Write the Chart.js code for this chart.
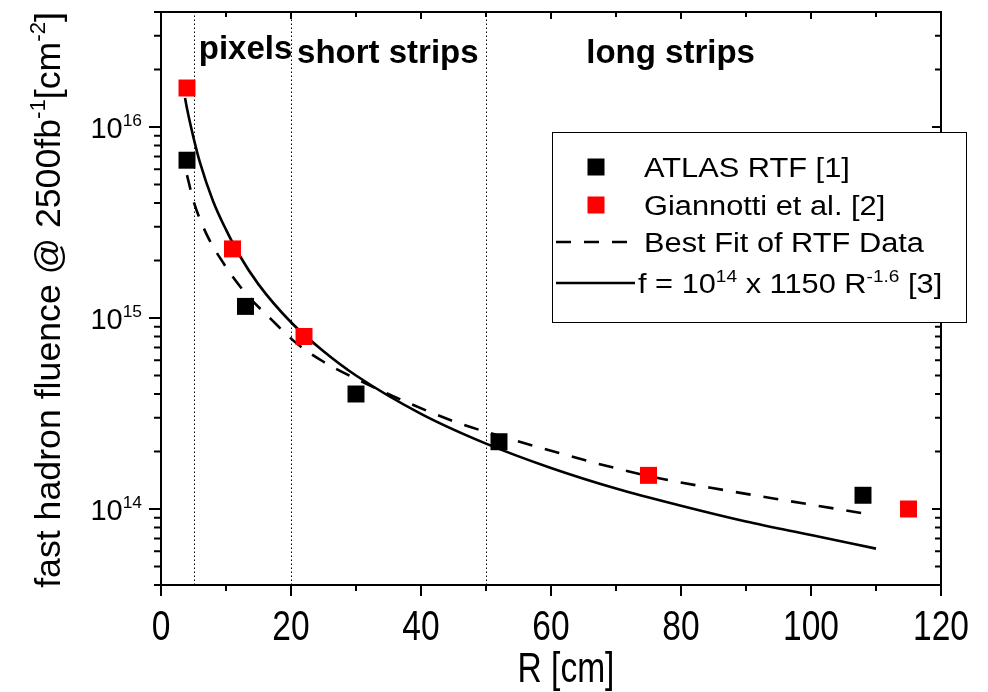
<!DOCTYPE html>
<html>
<head>
<meta charset="utf-8">
<script src="https://cdn.jsdelivr.net/npm/chart.js@4.4.1/dist/chart.umd.min.js"></script>
<style>
  html, body { margin: 0; padding: 0; background: #fff; }
</style>
</head>
<body>
<canvas id="fluenceChart" width="988" height="692"></canvas>
<script>
// measured points
const atlasR = [4, 13, 30, 52, 108];
const atlasF = [6.7e15, 1.15e15, 4.0e14, 2.25e14, 1.18e14];
const giannottiR = [4, 11, 22, 75, 115];
const giannottiF = [1.6e16, 2.3e15, 8.0e14, 1.5e14, 1.0e14];

// curves
const fitR = [4, 5, 7, 10, 13, 17, 21, 25, 30, 38, 46, 52, 60, 68, 77, 87, 96, 108];
const fitF = [5.6e15, 4.1e15, 2.75e15, 1.85e15, 1.35e15, 9.8e14, 7.3e14, 5.9e14, 4.8e14, 3.6e14,
              2.8e14, 2.42e14, 2.02e14, 1.7e14, 1.44e14, 1.25e14, 1.11e14, 9.5e13];
const modelR = [3.7, 4, 5, 6, 8, 10, 12, 15, 20, 25, 30, 40, 50, 60, 70, 80, 90, 100, 110];
const modelF = [1.42e16, 1.25e16, 8.8e15, 6.5e15, 4.1e15, 2.9e15, 2.15e15, 1.5e15, 9.5e14, 6.7e14,
                5.0e14, 3.15e14, 2.2e14, 1.64e14, 1.28e14, 1.04e14, 8.6e13, 7.3e13, 6.2e13];

const regionEdges = [5, 20, 50];
const regionNames = ['pixels', 'short strips', 'long strips'];
const regionLabelR = [13.0, 34.9, 78.4];

const xTicks = [0, 20, 40, 60, 80, 100, 120];
const yDecades = [1e14, 1e15, 1e16];
const yDecadeExp = ['14', '15', '16'];

const FONT = '"Liberation Sans", Arial, sans-serif';

function pts(xs, ys) {
    return xs.map((x, i) => ({x: x, y: ys[i]}));
}

// draw a run of text pieces, some raised as superscripts
function runs(ctx, parts, x, y, size, align, sx, bold, supScale) {
    const w = bold ? 'bold ' : '';
    const ss = supScale || 0.62;
    let total = 0;
    parts.forEach((p) => {
        ctx.font = w + (p.sup ? size * ss : size) + 'px ' + FONT;
        p.w = ctx.measureText(p.t).width;
        total += p.w;
    });
    ctx.save();
    ctx.translate(x, y);
    ctx.scale(sx, 1);
    let cx = align === 'center' ? -total / 2 : (align === 'right' ? -total : 0);
    ctx.textBaseline = 'alphabetic';
    ctx.textAlign = 'left';
    parts.forEach((p) => {
        ctx.font = w + (p.sup ? size * ss : size) + 'px ' + FONT;
        ctx.fillText(p.t, cx, p.sup ? -size * 0.42 : 0);
        cx += p.w;
    });
    ctx.restore();
}

const decorations = {
    id: 'decorations',
    beforeDatasetsDraw(chart) {
        const {ctx, chartArea: a, scales: {x}} = chart;
        ctx.save();
        ctx.strokeStyle = '#000';
        ctx.lineWidth = 1;
        ctx.setLineDash([1.5, 2.5]);
        regionEdges.forEach((r) => {
            const px = Math.round(x.getPixelForValue(r)) + 0.5;
            ctx.beginPath();
            ctx.moveTo(px, a.bottom);
            ctx.lineTo(px, a.top);
            ctx.stroke();
        });
        ctx.restore();
    },
    afterDatasetsDraw(chart) {
        const {ctx, chartArea: a, scales: {x, y}} = chart;
        ctx.save();
        ctx.fillStyle = '#000';
        ctx.strokeStyle = '#000';

        // region names
        regionNames.forEach((n, i) => {
            const base = i === 0 ? 59 : 63;
            runs(ctx, [{t: n}], x.getPixelForValue(regionLabelR[i]), base, 33, 'center', 1, true);
        });

        // frame
        ctx.lineWidth = 2;
        ctx.strokeRect(a.left, a.top, a.right - a.left, a.bottom - a.top);

        // x ticks
        for (let v = 0; v <= 120; v += 10) {
            const px = x.getPixelForValue(v);
            const major = v % 20 === 0;
            ctx.beginPath();
            ctx.moveTo(px, a.bottom);
            ctx.lineTo(px, a.bottom + (major ? 11 : 6));
            ctx.moveTo(px, a.top);
            ctx.lineTo(px, a.top + (major ? 7 : 5));
            ctx.stroke();
        }
        // y ticks
        for (let d = 13; d <= 16; d++) {
            for (let k = 1; k <= 9; k++) {
                const v = k * Math.pow(10, d);
                if (v < y.min || v > y.max) continue;
                const py = y.getPixelForValue(v);
                const major = k === 1;
                ctx.beginPath();
                ctx.moveTo(a.left, py);
                ctx.lineTo(a.left - (major ? 12 : 7), py);
                ctx.moveTo(a.right, py);
                ctx.lineTo(a.right - (major ? 9 : 6), py);
                ctx.stroke();
            }
        }

        // tick labels
        xTicks.forEach((v) => {
            runs(ctx, [{t: String(v)}], x.getPixelForValue(v), 640, 43, 'center', 0.78);
        });
        yDecades.forEach((v, i) => {
            runs(ctx, [{t: '10'}, {t: yDecadeExp[i], sup: true}], a.left - 19, y.getPixelForValue(v) + 11, 29, 'right', 1, false, 0.6);
        });

        // axis titles
        runs(ctx, [{t: 'R [cm]'}], 566, 682, 43, 'center', 0.78);
        ctx.save();
        ctx.translate(60, 300);
        ctx.rotate(-Math.PI / 2);
        runs(ctx, [{t: 'fast hadron fluence @ 2500fb'}, {t: '-1', sup: true}, {t: '[cm'}, {t: '-2', sup: true}, {t: ']'}],
            0, 0, 35, 'center', 1.02);
        ctx.restore();

        // legend
        const L = {left: 552, top: 132, right: 966, bottom: 322};
        ctx.fillStyle = '#fff';
        ctx.fillRect(L.left, L.top, L.right - L.left, L.bottom - L.top);
        ctx.lineWidth = 1;
        ctx.strokeRect(L.left + 0.5, L.top + 0.5, L.right - L.left, L.bottom - L.top);
        const rows = [167, 205, 242, 283];
        const ds = chart.data.datasets;
        ctx.fillStyle = ds[0].backgroundColor;
        ctx.fillRect(596 - 8.5, rows[0] - 8.5, 17, 17);
        ctx.fillStyle = ds[1].backgroundColor;
        ctx.fillRect(596 - 8.5, rows[1] - 8.5, 17, 17);
        ctx.lineWidth = 2.5;
        ctx.setLineDash(ds[2].borderDash);
        ctx.beginPath();
        ctx.moveTo(556, rows[2]);
        ctx.lineTo(628, rows[2]);
        ctx.stroke();
        ctx.setLineDash([]);
        ctx.beginPath();
        ctx.moveTo(556, rows[3]);
        ctx.lineTo(635, rows[3]);
        ctx.stroke();
        ctx.fillStyle = '#000';
        const tx = 644;
        runs(ctx, [{t: 'ATLAS RTF [1]'}], tx, rows[0] + 10, 27, 'left', 1.14);
        runs(ctx, [{t: 'Giannotti et al. [2]'}], tx, rows[1] + 10, 27, 'left', 1.14);
        runs(ctx, [{t: 'Best Fit of RTF Data'}], tx, rows[2] + 10, 27, 'left', 1.14);
        runs(ctx, [{t: 'f = 10'}, {t: '14', sup: true}, {t: ' x 1150 R'}, {t: '-1.6', sup: true}, {t: ' [3]'}],
            tx - 6, rows[3] + 10, 27, 'left', 1.14);
        ctx.restore();
    }
};

new Chart(document.getElementById('fluenceChart').getContext('2d'), {
    type: 'scatter',
    data: {
        datasets: [{
            label: 'ATLAS RTF [1]',
            data: pts(atlasR, atlasF),
            pointStyle: 'rect',
            pointRadius: 12,
            borderWidth: 0,
            backgroundColor: '#000000',
            borderColor: '#000000',
            showLine: false
        }, {
            label: 'Giannotti et al. [2]',
            data: pts(giannottiR, giannottiF),
            pointStyle: 'rect',
            pointRadius: 12,
            borderWidth: 0,
            backgroundColor: '#ff0000',
            borderColor: '#ff0000',
            showLine: false
        }, {
            label: 'Best Fit of RTF Data',
            data: pts(fitR, fitF),
            showLine: true,
            pointRadius: 0,
            borderColor: '#000000',
            borderWidth: 2.6,
            borderDash: [15, 13],
            cubicInterpolationMode: 'monotone'
        }, {
            label: 'f = 10^14 x 1150 R^-1.6 [3]',
            data: pts(modelR, modelF),
            showLine: true,
            pointRadius: 0,
            borderColor: '#000000',
            borderWidth: 2.6,
            cubicInterpolationMode: 'monotone'
        }]
    },
    options: {
        responsive: false,
        animation: false,
        layout: {padding: {left: 161, right: 47, top: 10, bottom: 107}},
        scales: {
            x: {type: 'linear', min: 0, max: 120, display: false},
            y: {type: 'logarithmic', min: 4e13, max: 4e16, display: false}
        },
        plugins: {
            legend: {display: false},
            tooltip: {enabled: false}
        }
    },
    plugins: [decorations]
});
</script>
</body>
</html>
